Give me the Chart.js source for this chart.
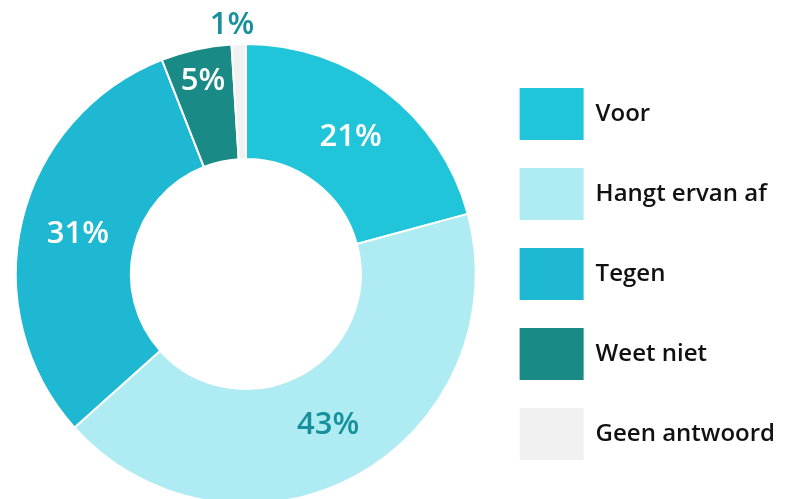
<!DOCTYPE html>
<html>
<head>
<meta charset="utf-8">
<script src="https://cdn.jsdelivr.net/npm/chart.js@4"></script>
<style>
  html, body { margin: 0; padding: 0; background: #fff; overflow: hidden; }
  #wrap { width: 787px; height: 550px; position: relative; }
</style>
</head>
<body>
<div id="wrap"><canvas id="chartOpinie"></canvas></div>
<script>
const labels = ["Voor", "Hangt ervan af", "Tegen", "Weet niet", "Geen antwoord"];
const values = [21, 43, 31, 5, 1];
const colors = ["#21c5d9", "#afebf3", "#1fb8d2", "#1a8a87", "#f1f1f1"];
const labelColors = ["#ffffff", "#16909a", "#ffffff", "#ffffff", "#16909a"];

const FONT = "'Open Sans', 'Noto Sans', sans-serif";

// percentage labels on the slices
const sliceLabels = {
  id: "sliceLabels",
  afterDatasetsDraw(chart) {
    const ctx = chart.ctx;
    const meta = chart.getDatasetMeta(0);
    ctx.save();
    ctx.font = "600 31px " + FONT;
    ctx.textAlign = "center";
    ctx.textBaseline = "middle";
    meta.data.forEach((arc, i) => {
      const p = arc.getProps(["x", "y", "startAngle", "endAngle", "innerRadius", "outerRadius"], true);
      const mid = (p.startAngle + p.endAngle) / 2;
      let r = (p.innerRadius + p.outerRadius) / 2;
      if (values[i] <= 2) r = p.outerRadius + 19;
      else if (values[i] <= 5) r = p.innerRadius + 0.72 * (p.outerRadius - p.innerRadius);
      ctx.fillStyle = labelColors[i];
      ctx.fillText(values[i] + "%", p.x + Math.cos(mid) * r - (values[i] <= 2 ? 6 : 0), p.y + Math.sin(mid) * r);
    });
    ctx.restore();
  },
};

document.addEventListener("DOMContentLoaded", () => {
  new Chart(document.querySelector("#chartOpinie"), {
    type: "doughnut",
    data: {
      labels: labels,
      datasets: [
        {
          data: values,
          backgroundColor: colors,
          borderColor: "#ffffff",
          borderWidth: 2,
        },
      ],
    },
    options: {
      responsive: true,
      maintainAspectRatio: false,
      animation: false,
      cutout: "50%",
      layout: {
        padding: { left: 0, top: 43, bottom: 45, right: 2 },
      },
      plugins: {
        tooltip: { enabled: false },
        legend: {
          position: "right",
          labels: {
            boxWidth: 64,
            boxHeight: 52,
            padding: 28,
            color: "#111111",
            font: { family: FONT, size: 24, weight: "600" },
            generateLabels(chart) {
              return Chart.overrides.doughnut.plugins.legend.labels
                .generateLabels(chart)
                .map((item) => Object.assign(item, { lineWidth: 0 }));
            },
          },
        },
      },
    },
    plugins: [sliceLabels],
  });
});
</script>
</body>
</html>
